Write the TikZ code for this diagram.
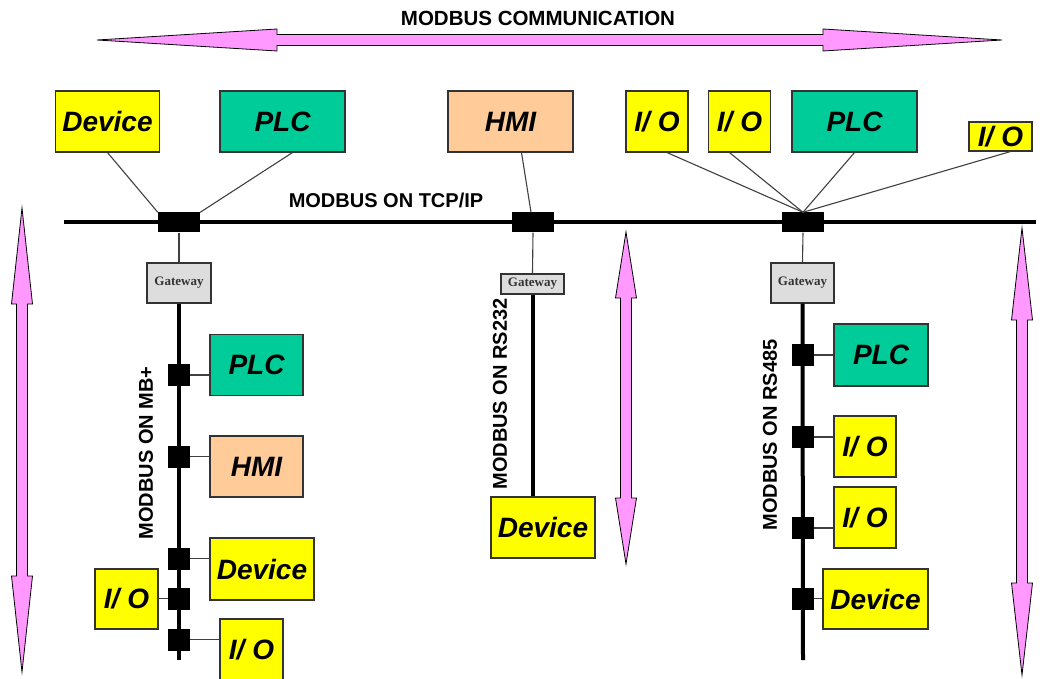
\documentclass[tikz,border=0pt]{standalone}
\usepackage{fontspec}
\setmainfont{Liberation Sans}
\newfontfamily\gwfont{Liberation Serif}
\usetikzlibrary{calc}

\definecolor{ioyellow}{HTML}{FFFF00}
\definecolor{plcgreen}{HTML}{00CC99}
\definecolor{hmipeach}{HTML}{FFCC99}
\definecolor{gwgray}{HTML}{DDDDDD}
\definecolor{arrowpink}{HTML}{FF99FF}

% vertical double arrow: x, top tip, bottom tip, head length
\newcommand{\vdarrow}[4]{%
  \filldraw[fill=arrowpink, draw=black, line width=0.8pt]
    (#1,#2) -- (#1+10.5,#2+#4) -- (#1+5.5,#2+#4) -- (#1+5.5,#3-#4) -- (#1+10.5,#3-#4)
    -- (#1,#3) -- (#1-10.5,#3-#4) -- (#1-5.5,#3-#4) -- (#1-5.5,#2+#4) -- (#1-10.5,#2+#4) -- cycle;}

\begin{document}
\begin{tikzpicture}[x=1pt,y=-1pt,
  box/.style={draw=black!80, line width=1.1pt, inner sep=0pt,
    font=\bfseries\itshape\fontsize{28pt}{30pt}\selectfont},
  io/.style={box, fill=ioyellow},
  plc/.style={box, fill=plcgreen},
  hmi/.style={box, fill=hmipeach},
  sz/.style 2 args={minimum width=#1pt, minimum height=#2pt},
  tap/.style={fill=black, inner sep=0pt},
  gateway/.style={draw=black!80, line width=1.1pt, fill=gwgray, inner sep=0pt,
    font=\gwfont\bfseries\fontsize{13pt}{13pt}\selectfont, text=black!80},
  bus/.style={line width=4pt},
  wire/.style={line width=1.1pt, draw=black!75},
  title/.style={font=\bfseries\fontsize{20pt}{20pt}\selectfont}]
\useasboundingbox (0,0) rectangle (1042,679);

% big arrows
\filldraw[fill=arrowpink, draw=black, line width=0.8pt]
  (97,40) -- (277,29) -- (277,34.5) -- (823,34.5) -- (823,29) -- (1002,40)
  -- (823,51) -- (823,45.5) -- (277,45.5) -- (277,51) -- cycle;
\vdarrow{22}{208}{672}{96}
\vdarrow{626}{232}{564}{66}
\vdarrow{1022}{228}{675}{92}

\node[title, font=\bfseries\fontsize{20.5pt}{20.5pt}\selectfont] (comm) at (538,18) {MODBUS COMMUNICATION};

% TCP/IP backbone
\coordinate (tcpw) at (64,222.5);
\coordinate (tcpe) at (1036,222.5);
\draw[bus] (tcpw) -- (tcpe);
\node[title] (tcptxt) at (386,200) {MODBUS ON TCP/IP};

\node[tap, sz={42}{20}] (tap1) at (179,222.5) {};
\node[tap, sz={42}{20}] (tap2) at (533,222.5) {};
\node[tap, sz={42}{20}] (tap3) at (803,222.5) {};

\node[io, sz={104}{61}] (dev1) at (107.5,121.5) {Device};
\node[plc, sz={125}{61}] (plc1) at (282.5,121.5) {PLC};
\node[hmi, sz={125}{61}] (hmi1) at (510.5,121.5) {HMI};
\node[io, sz={62}{61}] (io1) at (657,121.5) {I/ O};
\node[io, sz={62}{61}] (io2) at (739.5,121.5) {I/ O};
\node[plc, sz={125}{61}] (plc2) at (854.5,121.5) {PLC};
\node[io, sz={63}{29}] (io3) at (1000.5,136.5) {I/ O};

\draw[wire] (dev1.south) -- (tap1.north west);
\draw[wire] ($(plc1.south)+(10,0)$) -- (tap1.north east);
\draw[wire] ($(hmi1.south)+(11,0)$) -- ($(tap2.north)+(-2,0)$);
\draw[wire] ($(io1.south)+(10,0)$) -- (tap3.north);
\draw[wire] ($(io2.south)+(-10,0)$) -- (tap3.north);
\draw[wire] (plc2.south) -- (tap3.north);
\draw[wire] ($(io3.south)+(10,0)$) -- (tap3.north);

% gateways
\node[gateway, sz={64}{40}] (gw1) at (179,283) {Gateway};
\node[gateway, sz={63}{20}] (gw2) at (532.5,284) {Gateway};
\node[gateway, sz={63}{40}] (gw3) at (802.5,283) {Gateway};
\draw[wire] (tap1.south) -- (gw1.north);
\draw[wire] (tap2.south) -- (gw2.north);
\draw[wire] (tap3.south) -- (gw3.north);

% MB+ branch
\coordinate (mbend) at (179,660);
\draw[bus] (gw1.south) -- (mbend);
\node[title, rotate=90] (mbtxt) at (146,453) {MODBUS ON MB+};
\node[tap, sz={22}{22}] (mb1) at (179,375) {};
\node[tap, sz={22}{22}] (mb2) at (179,456.5) {};
\node[tap, sz={22}{22}] (mb3) at (179,558.5) {};
\node[tap, sz={22}{22}] (mb4) at (179,598.5) {};
\node[tap, sz={22}{22}] (mb5) at (179,639.5) {};
\node[plc, sz={93}{61}] (plc3) at (256.5,365) {PLC};
\node[hmi, sz={93}{61}] (hmi2) at (256.5,466.5) {HMI};
\node[io, sz={104}{62}] (dev2) at (262,569) {Device};
\node[io, sz={63}{60}] (io4) at (126.5,599) {I/ O};
\node[io, sz={63}{62}] (io5) at (251.5,650) {I/ O};
\draw[wire] (mb1.east) -- (mb1.east -| plc3.west);
\draw[wire] (mb2.east) -- (mb2.east -| hmi2.west);
\draw[wire] (mb3.east) -- (mb3.east -| dev2.west);
\draw[wire] (mb4.west) -- (mb4.west -| io4.east);
\draw[wire] (mb5.east) -- (mb5.east -| io5.west);

% RS232 branch
\node[io, sz={104}{61}] (dev3) at (543,527.5) {Device};
\draw[bus] (gw2.south) -- (gw2.south |- dev3.north);
\node[title, rotate=90] (rs232txt) at (500,394) {MODBUS ON RS232};

% RS485 branch
\coordinate (rsend) at (803,660);
\draw[bus] (gw3.south) -- (rsend);
\node[title, rotate=90] (rs485txt) at (770,435) {MODBUS ON RS485};
\node[tap, sz={22}{22}] (rs1) at (803,355) {};
\node[tap, sz={22}{22}] (rs2) at (803,437) {};
\node[tap, sz={22}{22}] (rs3) at (803,528) {};
\node[tap, sz={22}{22}] (rs4) at (803,598.5) {};
\node[plc, sz={94}{62}] (plc4) at (881,355) {PLC};
\node[io, sz={62}{61}] (io6) at (865,446.5) {I/ O};
\node[io, sz={62}{61}] (io7) at (865,517.5) {I/ O};
\node[io, sz={105}{60}] (dev4) at (875.5,599) {Device};
\draw[wire] (rs1.east) -- (rs1.east -| plc4.west);
\draw[wire] (rs2.east) -- (rs2.east -| io6.west);
\draw[wire] (rs3.east) -- (rs3.east -| io7.west);
\draw[wire] (rs4.east) -- (rs4.east -| dev4.west);
\end{tikzpicture}
\end{document}
